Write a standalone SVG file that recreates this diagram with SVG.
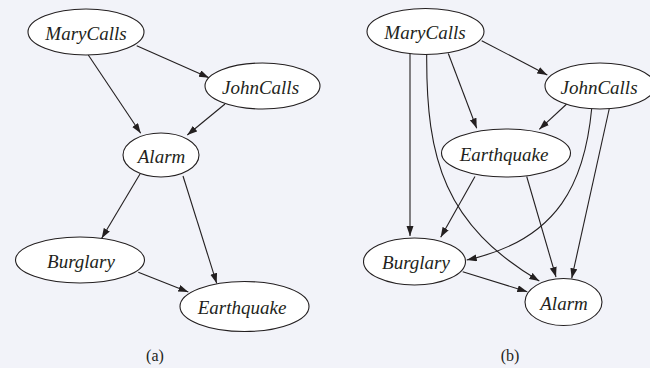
<svg xmlns="http://www.w3.org/2000/svg" width="650" height="368" viewBox="0 0 650 368">
<defs>
<marker id="arr" markerUnits="userSpaceOnUse" markerWidth="11" markerHeight="8" refX="10" refY="3.5" orient="auto">
<path d="M0,0 L10,3.5 L0,7 z" fill="#231f20"/>
</marker>
<style>
.n ellipse{fill:#fff;stroke:#231f20;stroke-width:1.1}
.n text{font-family:"Liberation Serif","Times New Roman",serif;font-style:italic;font-size:19px;fill:#231f20;text-anchor:middle}
#edges path,#edges line{fill:none;stroke:#231f20;stroke-width:1.1;marker-end:url(#arr)}
.cap{font-family:"Liberation Serif","Times New Roman",serif;font-size:16px;fill:#231f20;text-anchor:middle}
</style>
</defs>
<rect width="650" height="368" fill="#f2f3f9"/>
<g id="edges">
<!-- (a) -->
<line x1="136.7" y1="45.7" x2="209" y2="77.7"/>
<line x1="88.3" y1="55" x2="140.7" y2="133.3"/>
<line x1="225" y1="104" x2="187.3" y2="135"/>
<line x1="140" y1="174" x2="101.7" y2="238.3"/>
<line x1="183" y1="176" x2="216.7" y2="283.3"/>
<line x1="138.3" y1="272.3" x2="188.3" y2="292"/>
<!-- (b) -->
<line x1="481.7" y1="40.7" x2="547.3" y2="75"/>
<line x1="410" y1="54" x2="410" y2="236"/>
<path d="M426.7,54 C426,160 445,225 539.3,281"/>
<line x1="448.3" y1="53.5" x2="476.7" y2="128.3"/>
<line x1="566.7" y1="104" x2="539.3" y2="129.3"/>
<path d="M591.7,108.5 C585,180 560,240 466.7,260"/>
<line x1="609.3" y1="108.5" x2="571.7" y2="278.3"/>
<line x1="475" y1="176.5" x2="440.7" y2="237.3"/>
<line x1="526.7" y1="176.5" x2="556" y2="277"/>
<line x1="462.7" y1="271.7" x2="527.3" y2="291.7"/>
</g>
<g id="a-MaryCalls" class="n"><ellipse cx="86" cy="32" rx="58" ry="23"/><text x="86" y="39.5">MaryCalls</text></g>
<g id="a-JohnCalls" class="n"><ellipse cx="262.5" cy="86" rx="57.5" ry="23"/><text x="260.5" y="93.5">JohnCalls</text></g>
<g id="a-Alarm" class="n"><ellipse cx="161" cy="155" rx="38" ry="22"/><text x="161.5" y="162.5">Alarm</text></g>
<g id="a-Burglary" class="n"><ellipse cx="80" cy="260" rx="64.5" ry="23"/><text x="81" y="267.5">Burglary</text></g>
<g id="a-Earthquake" class="n"><ellipse cx="244.5" cy="306.5" rx="64.5" ry="25"/><text x="242" y="314">Earthquake</text></g>
<g id="b-MaryCalls" class="n"><ellipse cx="425.5" cy="31.5" rx="58.5" ry="23"/><text x="425" y="39">MaryCalls</text></g>
<g id="b-JohnCalls" class="n"><ellipse cx="600" cy="86" rx="55" ry="23"/><text x="599" y="93.5">JohnCalls</text></g>
<g id="b-Earthquake" class="n"><ellipse cx="506" cy="153" rx="64.5" ry="24"/><text x="504" y="160.5">Earthquake</text></g>
<g id="b-Burglary" class="n"><ellipse cx="414.5" cy="261.5" rx="51" ry="23.5"/><text x="416" y="269">Burglary</text></g>
<g id="b-Alarm" class="n"><ellipse cx="563.5" cy="302" rx="38.5" ry="23.5"/><text x="564" y="309.5">Alarm</text></g>
<text class="cap" x="155" y="361">(a)</text>
<text class="cap" x="510" y="361">(b)</text>
</svg>
